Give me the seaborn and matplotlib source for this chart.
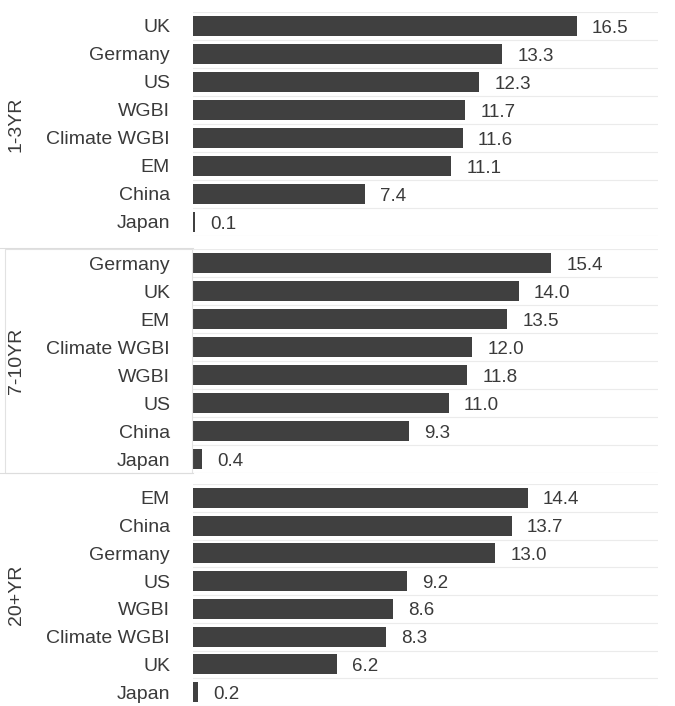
import numpy as np
import pandas as pd
import seaborn as sns
from matplotlib import pyplot as plt
from matplotlib.patches import Rectangle
from matplotlib.lines import Line2D

plt.rcParams['font.family'] = ['Liberation Sans', 'DejaVu Sans']

# data per maturity bucket, in the order shown
short_names = ["UK", "Germany", "US", "WGBI", "Climate WGBI", "EM", "China", "Japan"]
short_vals = [16.5, 13.3, 12.3, 11.7, 11.6, 11.1, 7.4, 0.1]

mid_names = ["Germany", "UK", "EM", "Climate WGBI", "WGBI", "US", "China", "Japan"]
mid_vals = [15.4, 14.0, 13.5, 12.0, 11.8, 11.0, 9.3, 0.4]

long_names = ["EM", "China", "Germany", "US", "WGBI", "Climate WGBI", "UK", "Japan"]
long_vals = [14.4, 13.7, 13.0, 9.2, 8.6, 8.3, 6.2, 0.2]

buckets = ["1-3YR", "7-10YR", "20+YR"]

panels = [(short_names, short_vals), (mid_names, mid_vals), (long_names, long_vals)]

fig = plt.figure(figsize=(6.75, 7.06), dpi=100)
W, H = 675, 706
left, right = 193, 658
tops = [12, 249, 484]
bots = [236, 473, 706]
txt = "#3a3a3a"
grid = "#ebebeb"

for bucket, (names, vals), top, bot in zip(buckets, panels, tops, bots):
    ax = fig.add_axes([left / W, 1 - bot / H, (right - left) / W, (bot - top) / H])
    df = pd.DataFrame({"name": names, "value": vals})
    sns.barplot(data=df, x="value", y="name", order=names, color="#404040",
                width=0.72, saturation=1, ax=ax)
    ax.set_xlim(0, 20)
    ax.set_ylim(len(names) - 0.5, -0.5)
    ax.set_xlabel("")
    ax.set_ylabel("")
    ax.set_xticks([])
    ax.tick_params(axis="y", length=0, pad=16.5, labelsize=14, labelcolor=txt)
    for s in ax.spines.values():
        s.set_visible(False)
    # faint row separators
    for k in range(len(names) + 1):
        ax.axhline(k - 0.5, color=grid, lw=0.8, zorder=0)
    for i, v in enumerate(vals):
        ax.annotate(f"{v:.1f}", (v, i), xytext=(11, -1.5), textcoords="offset points",
                    va="center", ha="left", fontsize=13.5, color=txt)
    fig.text(16 / W, 1 - (top + bot) / 2 / H, bucket, rotation=90,
             ha="center", va="center", fontsize=14, color=txt)

# panel separators and row header box for the middle panel
fig.add_artist(Line2D([0, left / W], [1 - 248 / H] * 2, color="#dddddd", lw=0.8))
fig.add_artist(Rectangle((5 / W, 1 - 473 / H), (192 - 5) / W, (473 - 249) / H,
                         fill=False, edgecolor="#e2e2e2", lw=0.8))
fig.add_artist(Line2D([0, left / W], [1 - 473 / H] * 2, color="#dddddd", lw=0.8))

fig.savefig("out.png", dpi=100)
